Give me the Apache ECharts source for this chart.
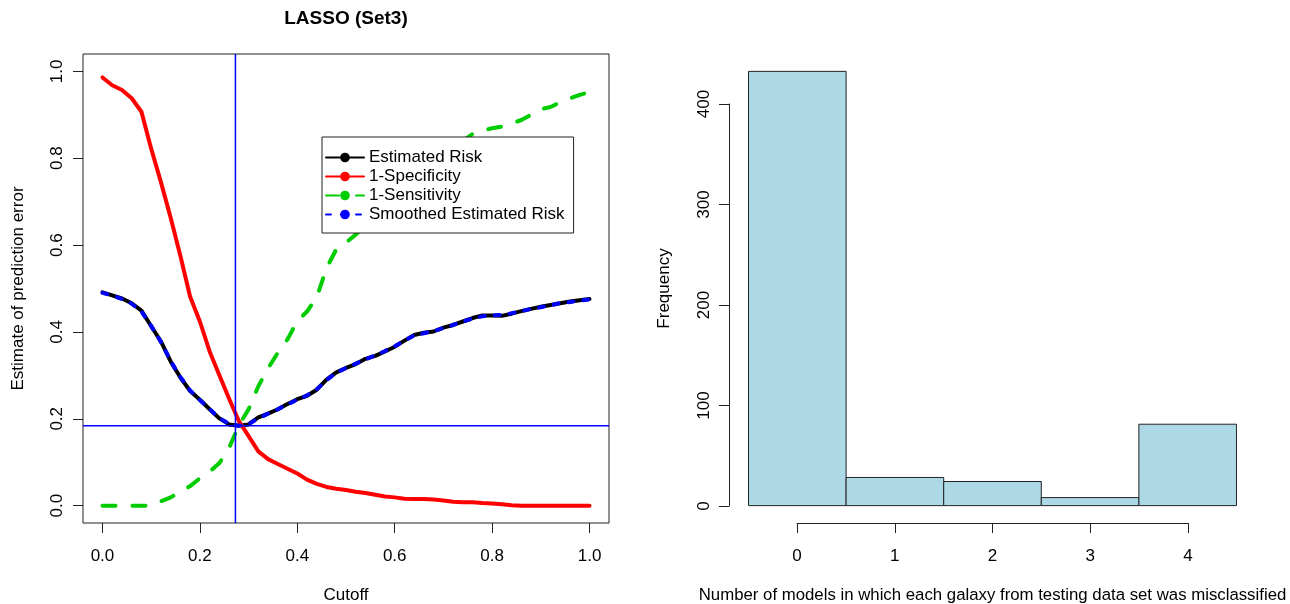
<!DOCTYPE html>
<html><head><meta charset="utf-8">
<script src="https://cdn.jsdelivr.net/npm/echarts@6/dist/echarts.min.js"></script>
<style>html,body{margin:0;padding:0;background:#fff}#c{width:1290px;height:604px}</style>
</head><body><div id="c"></div>
<script>
// ---- data ----
const cutoff = [0,0.02,0.04,0.06,0.08,0.10,0.12,0.14,0.16,0.18,0.20,0.22,0.24,0.26,0.28,0.30,0.32,0.34,0.36,0.38,0.40,0.42,0.44,0.46,0.48,0.50,0.52,0.54,0.56,0.58,0.60,0.62,0.64,0.66,0.68,0.70,0.72,0.74,0.76,0.78,0.80,0.82,0.84,0.86,0.88,0.90,0.92,0.94,0.96,0.98,1.00];
const estRisk = [0.491,0.484,0.477,0.466,0.449,0.413,0.378,0.332,0.295,0.264,0.244,0.222,0.201,0.187,0.184,0.187,0.203,0.212,0.222,0.234,0.245,0.253,0.267,0.290,0.307,0.317,0.326,0.338,0.345,0.355,0.366,0.380,0.393,0.398,0.401,0.410,0.416,0.424,0.432,0.438,0.438,0.437,0.442,0.448,0.453,0.458,0.462,0.466,0.470,0.473,0.476];
const specErr = [0.986,0.968,0.957,0.938,0.907,0.822,0.745,0.663,0.575,0.481,0.424,0.355,0.300,0.246,0.195,0.160,0.125,0.107,0.096,0.085,0.074,0.060,0.050,0.043,0.039,0.036,0.032,0.029,0.025,0.021,0.019,0.016,0.015,0.015,0.014,0.012,0.009,0.008,0.008,0.006,0.005,0.003,0.001,0,0,0,0,0,0,0,0];
const sensErr = [0,0,0,0,0,0,0.010,0.019,0.032,0.045,0.063,0.078,0.098,0.133,0.185,0.222,0.275,0.316,0.352,0.383,0.425,0.447,0.480,0.547,0.590,0.606,0.624,0.645,0.665,0.685,0.705,0.725,0.745,0.765,0.785,0.805,0.822,0.840,0.856,0.864,0.869,0.873,0.880,0.888,0.900,0.913,0.918,0.929,0.938,0.946,0.952];
const smoothRisk = [0.490,0.484,0.476,0.465,0.447,0.414,0.377,0.333,0.296,0.265,0.243,0.222,0.202,0.188,0.184,0.188,0.201,0.212,0.222,0.233,0.244,0.254,0.268,0.289,0.306,0.317,0.327,0.337,0.346,0.356,0.367,0.380,0.392,0.397,0.402,0.409,0.416,0.424,0.431,0.436,0.438,0.439,0.443,0.448,0.453,0.457,0.462,0.466,0.469,0.472,0.475];
const optCutoff = 0.273;
const minRisk = 0.184;
const cutoffTicks = [0,0.2,0.4,0.6,0.8,1.0];
const errorTicks = [0,0.2,0.4,0.6,0.8,1.0];

const misclassCount = [0,1,2,3,4];
const frequency = [432,28,24,8,81];
const binWidth = 1;
const freqTicks = [0,100,200,300,400];

// ---- axis extents (R adds 4% on each side) ----
const LO = -0.04, HI = 1.04;

// ---- chart ----
const FONT = '"Liberation Sans", Arial, sans-serif';
const chart = echarts.init(document.getElementById('c'), null, {renderer:'canvas'});
const pairs = ys => cutoff.map((x,i)=>[x, ys[i]]);
const txt = {fontSize:17, color:'#000', fontFamily:FONT};
const tickStyle = {color:'#222', width:1};
const gridBase = {outerBoundsMode:'none', containLabel:false};

const option = {
  animation:false,
  backgroundColor:'#fff',
  textStyle:{fontFamily:FONT},
  title:{text:'LASSO (Set3)', left:346, top:9, padding:0, textAlign:'center',
    textStyle:{fontSize:19, fontWeight:'bold', color:'#000', fontFamily:FONT}},
  legend:{orient:'vertical', left:322, top:137, padding:[12,9,10,3], itemGap:2,
    itemWidth:38, itemHeight:12, backgroundColor:'#fff', borderColor:'#222', borderWidth:1,
    selectedMode:false, textStyle:Object.assign({lineHeight:17}, txt),
    data:['Estimated Risk','1-Specificity','1-Sensitivity','Smoothed Estimated Risk']},
  grid:[
    Object.assign({left:83, right:681, top:54, bottom:81, show:true, borderColor:'#222', borderWidth:1, backgroundColor:'transparent'}, gridBase),
    Object.assign({left:729, right:34, top:54, bottom:81}, gridBase),
    Object.assign({left:797, right:102, top:54, bottom:81}, gridBase),
    Object.assign({left:729, right:34, top:104, bottom:98}, gridBase)
  ],
  xAxis:[
    {gridIndex:0, type:'value', min:LO, max:HI, splitLine:{show:false}, axisLine:{show:false, onZero:false},
     axisTick:{show:true, length:10, customValues:cutoffTicks, lineStyle:tickStyle},
     axisLabel:Object.assign({customValues:cutoffTicks, formatter:v=>v.toFixed(1), margin:25}, txt),
     name:'Cutoff', nameLocation:'middle', nameGap:64, nameTextStyle:txt},
    {gridIndex:1, type:'value', min:-0.7, max:4.7, show:false, axisLine:{onZero:false}},
    {gridIndex:2, type:'value', min:0, max:4, splitLine:{show:false},
     axisLine:{show:true, onZero:false, lineStyle:tickStyle},
     axisTick:{show:true, length:10, customValues:misclassCount, lineStyle:tickStyle},
     axisLabel:Object.assign({customValues:misclassCount, margin:25}, txt),
     name:'Number of models in which each galaxy from testing data set was misclassified',
     nameLocation:'middle', nameGap:64, nameTextStyle:Object.assign({}, txt, {fontSize:16.8})},
    {gridIndex:3, type:'value', min:0, max:4, show:false, axisLine:{onZero:false}}
  ],
  yAxis:[
    {gridIndex:0, type:'value', min:LO, max:HI, splitLine:{show:false}, axisLine:{show:false, onZero:false},
     axisTick:{show:true, length:10, customValues:errorTicks, lineStyle:tickStyle},
     axisLabel:Object.assign({customValues:errorTicks, formatter:v=>v.toFixed(1), margin:17, rotate:90}, txt),
     name:'Estimate of prediction error', nameLocation:'middle', nameGap:56, nameTextStyle:txt},
    {gridIndex:1, type:'value', min:-17.28, max:449.28, splitLine:{show:false},
     axisLine:{show:false, onZero:false}, axisTick:{show:false}, axisLabel:{show:false},
     name:'Frequency', nameLocation:'middle', nameGap:56, nameTextStyle:txt},
    {gridIndex:2, type:'value', min:-17.28, max:449.28, show:false, axisLine:{onZero:false}},
    {gridIndex:3, type:'value', min:0, max:400, splitLine:{show:false},
     axisLine:{show:true, onZero:false, lineStyle:tickStyle},
     axisTick:{show:true, length:10, customValues:freqTicks, lineStyle:tickStyle},
     axisLabel:Object.assign({customValues:freqTicks, margin:16, rotate:90}, txt)}
  ],
  series:[
    {name:'Estimated Risk', type:'line', xAxisIndex:0, yAxisIndex:0, data:pairs(estRisk),
     showSymbol:false, symbol:'circle', symbolSize:5, itemStyle:{color:'#000'},
     lineStyle:{color:'#000', width:4, cap:'round', join:'round'}},
    {name:'1-Specificity', type:'line', xAxisIndex:0, yAxisIndex:0, data:pairs(specErr),
     showSymbol:false, symbol:'circle', symbolSize:5, itemStyle:{color:'#FF0000'},
     lineStyle:{color:'#FF0000', width:4, cap:'round', join:'round'}},
    {name:'1-Sensitivity', type:'line', xAxisIndex:0, yAxisIndex:0, data:pairs(sensErr),
     showSymbol:false, symbol:'circle', symbolSize:5, itemStyle:{color:'#00CD00'},
     lineStyle:{color:'#00CD00', width:4, type:[13,17], cap:'round', join:'round'}},
    {name:'Smoothed Estimated Risk', type:'line', xAxisIndex:0, yAxisIndex:0, data:pairs(smoothRisk),
     showSymbol:false, symbol:'circle', symbolSize:5, itemStyle:{color:'#0000FF'},
     lineStyle:{color:'#0000FF', width:4, type:[5,10], cap:'round', join:'round'}},
    {name:'vline', type:'line', xAxisIndex:0, yAxisIndex:0, data:[[optCutoff, LO],[optCutoff, HI]],
     showSymbol:false, silent:true, lineStyle:{color:'#0000FF', width:1.5}},
    {name:'hline', type:'line', xAxisIndex:0, yAxisIndex:0, data:[[LO, minRisk],[HI, minRisk]],
     showSymbol:false, silent:true, lineStyle:{color:'#0000FF', width:1.5}},
    {name:'hist', type:'custom', xAxisIndex:1, yAxisIndex:1,
     data:misclassCount.map((m,i)=>[m, frequency[i]]),
     renderItem:(params, api)=>{
       const x = api.value(0), y = api.value(1);
       const p0 = api.coord([x - binWidth/2, y]);
       const p1 = api.coord([x + binWidth/2, 0]);
       return {type:'rect', shape:{x:p0[0], y:p0[1], width:p1[0]-p0[0], height:p1[1]-p0[1]},
         style:{fill:'#ADD8E6', stroke:'#222', lineWidth:1}};
     }}
  ]
};
chart.setOption(option);
</script></body></html>
